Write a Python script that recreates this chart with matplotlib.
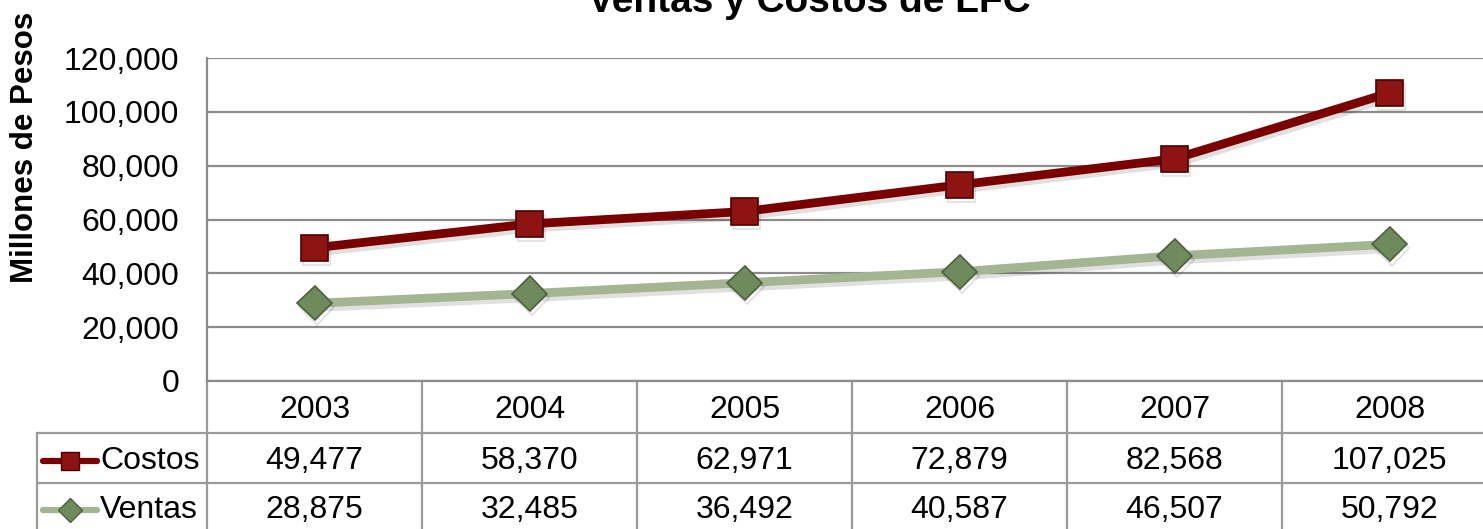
import matplotlib
matplotlib.use("Agg")
import matplotlib.pyplot as plt
import matplotlib.patheffects as pe
import matplotlib.transforms as mtransforms
from matplotlib.lines import Line2D

plt.rcParams['font.family'] = ['Liberation Sans', 'DejaVu Sans']

years = ['2003', '2004', '2005', '2006', '2007', '2008']
costos = [49477, 58370, 62971, 72879, 82568, 107025]
ventas = [28875, 32485, 36492, 40587, 46507, 50792]
y_ticks = [0, 20000, 40000, 60000, 80000, 100000, 120000]

W, H = 1483, 529
fig = plt.figure(figsize=(W / 100, H / 100), dpi=100)

# plot area in pixels: left 207, column width 215, top 58, bottom 381
ax = fig.add_axes([207 / W, 1 - 381 / H, 6 * 215 / W, 323 / H])

grid_col = '#8c8c8c'
fs = 23
shadow = [pe.SimpleLineShadow(offset=(1.5, -3), alpha=0.12, shadow_color='k'), pe.Normal()]

x = list(range(len(years)))
ax.plot(x, costos, color='#7a0000', lw=6.3, marker='s', ms=19,
        mfc='#8e1414', mec='#4a0000', mew=1.2, path_effects=shadow, zorder=4)
ax.plot(x, ventas, color='#a3b591', lw=6.3, marker='D', ms=17.5,
        mfc='#6f8a5c', mec='#4c6040', mew=1.2, path_effects=shadow, zorder=3)

ax.set_xlim(-0.5, len(years) - 0.5)
ax.set_ylim(0, 120000)
ax.set_yticks(y_ticks)
ax.set_yticklabels([f'{v:,}' for v in y_ticks])
ax.set_xticks([])
ax.tick_params(axis='y', length=0, pad=20, labelsize=fs)
ax.grid(axis='y', color=grid_col, lw=1.6)
ax.set_axisbelow(True)
for s in ['top', 'right']:
    ax.spines[s].set_visible(False)
ax.spines['left'].set_color(grid_col)
ax.spines['left'].set_linewidth(1.6)
ax.spines['bottom'].set_color(grid_col)
ax.spines['bottom'].set_linewidth(1.6)

# data table under the axes (x in data units, y in axes fraction)
tr = mtransforms.blended_transform_factory(ax.transData, ax.transAxes)
row_y = [0, -52 / 323, -102 / 323, -155 / 323]
nudge = -3 / 323
left_col = -0.5 - (207 - 37) / 215
border = '#9a9a9a'

for i in range(len(years) + 1):
    ax.add_line(Line2D([i - 0.5, i - 0.5], [0, row_y[3]], transform=tr,
                       color=border, lw=1.6, clip_on=False))
ax.add_line(Line2D([left_col, left_col], [row_y[1], row_y[3]], transform=tr,
                   color=border, lw=1.6, clip_on=False))
for yy in row_y[1:3]:
    ax.add_line(Line2D([left_col, len(years) - 0.5], [yy, yy], transform=tr,
                       color=border, lw=1.6, clip_on=False))

yh = (row_y[0] + row_y[1]) / 2 + nudge
yc = (row_y[1] + row_y[2]) / 2 + nudge
yv = (row_y[2] + row_y[3]) / 2
for i, yr in enumerate(years):
    ax.text(i, yh, yr, transform=tr, ha='center', va='center', fontsize=fs, clip_on=False)
    ax.text(i, yc, f'{costos[i]:,}', transform=tr, ha='center', va='center',
            fontsize=fs, clip_on=False)
    ax.text(i, yv, f'{ventas[i]:,}', transform=tr, ha='center', va='center',
            fontsize=fs, clip_on=False)

# legend keys inside the table
seg0 = -0.5 - (207 - 43) / 215
seg1 = -0.5 - (207 - 97) / 215
mid = (seg0 + seg1) / 2
lab_x = -0.5 - (207 - 100) / 215
ax.add_line(Line2D([seg0, seg1], [yc, yc], transform=tr, color='#7a0000', lw=4.5,
                   solid_capstyle='round', clip_on=False))
ax.add_line(Line2D([mid], [yc], transform=tr, marker='s', ms=13, mfc='#8e1414',
                   mec='#4a0000', clip_on=False))
ax.add_line(Line2D([seg0, seg1], [yv, yv], transform=tr, color='#a3b591', lw=4.5,
                   solid_capstyle='round', clip_on=False))
ax.add_line(Line2D([mid], [yv], transform=tr, marker='D', ms=12, mfc='#6f8a5c',
                   mec='#4c6040', clip_on=False))
ax.text(lab_x, yc, 'Costos', transform=tr, ha='left', va='center', fontsize=fs, clip_on=False)
ax.text(lab_x, yv, 'Ventas', transform=tr, ha='left', va='center', fontsize=fs, clip_on=False)

fig.text(809 / W, 1 - 12 / H, 'Ventas y Costos de LFC', ha='center', va='baseline',
         fontsize=28, fontweight='bold')
fig.text(25 / W, 1 - 283 / H, 'Millones de Pesos', rotation=90, ha='center', va='bottom',
         fontsize=22.5, fontweight='bold')

fig.savefig('out.png', dpi=100)
